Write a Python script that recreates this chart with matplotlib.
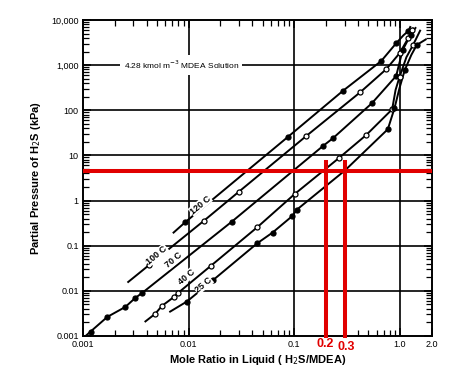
import numpy as np
import matplotlib.pyplot as plt
from matplotlib.ticker import FixedLocator, FixedFormatter, LogLocator, NullFormatter
import matplotlib.transforms as mtransforms

plt.rcParams['font.family'] = ['Liberation Sans', 'DejaVu Sans']

# isotherms: mole ratio (H2S/MDEA) vs partial pressure of H2S (kPa)
t120_x = [0.0072, 0.00927, 0.0875, 0.287, 0.665, 0.92, 1.08, 1.2, 1.25]
t120_y = [0.195, 0.33, 26, 267, 1236, 3050, 4600, 5700, 7000]
t120_mx = [0.00927, 0.0875, 0.287, 0.665, 0.92, 1.2]
t120_my = [0.33, 26, 267, 1236, 3050, 5700]

t100_x = [0.00268, 0.00424, 0.014, 0.0299, 0.130, 0.42, 0.74, 0.99, 1.2, 1.33]
t100_y = [0.0157, 0.0375, 0.359, 1.57, 27, 250, 810, 1830, 4000, 6500]
t100_mx = [0.00424, 0.014, 0.0299, 0.130, 0.42, 0.74, 0.99, 1.2, 1.3]
t100_my = [0.0375, 0.359, 1.57, 27, 250, 810, 1830, 4000, 6000]

t70_x = [0.00106, 0.00118, 0.0017, 0.00252, 0.00313, 0.00364, 0.0256, 0.187, 0.232,
         0.542, 0.92, 1.06, 1.26, 1.4]
t70_y = [0.001, 0.00125, 0.00264, 0.0044, 0.00697, 0.009, 0.34, 16.2, 24,
         143, 575, 2170, 4650, 6650]
t70_mx = [0.00118, 0.0017, 0.00252, 0.00313, 0.00364, 0.0256, 0.187, 0.232,
          0.542, 0.92, 1.06, 1.26]
t70_my = [0.00125, 0.00264, 0.0044, 0.00697, 0.009, 0.34, 16.2, 24,
          143, 575, 2170, 4650]

t40_x = [0.0039, 0.00483, 0.00559, 0.0072, 0.008, 0.0163, 0.0446, 0.101, 0.263,
         0.48, 0.843, 0.908, 0.99, 1.15, 1.33, 1.55]
t40_y = [0.0021, 0.0031, 0.00463, 0.0072, 0.0091, 0.0361, 0.256, 1.4, 8.65,
         28.4, 105, 282, 547, 1500, 2800, 5800]
t40_mx = [0.00483, 0.00559, 0.0072, 0.008, 0.0163, 0.0446, 0.101, 0.263,
          0.48, 0.843, 0.99, 1.33]
t40_my = [0.0031, 0.00463, 0.0072, 0.0091, 0.0361, 0.256, 1.4, 8.65,
          28.4, 105, 547, 2800]

t25_x = [0.00668, 0.0096, 0.0171, 0.0446, 0.0622, 0.096, 0.105, 0.30, 0.767,
         0.887, 0.99, 1.11, 1.28, 1.44, 1.75]
t25_y = [0.00346, 0.00577, 0.0174, 0.113, 0.195, 0.456, 0.62, 4.6, 38,
         111, 312, 780, 1680, 2790, 3700]
t25_mx = [0.0096, 0.0171, 0.0446, 0.0622, 0.096, 0.105, 0.767, 0.887, 1.11, 1.44]
t25_my = [0.00577, 0.0174, 0.113, 0.195, 0.456, 0.62, 38, 111, 780, 2790]

labels = ['120 C', '100 C', '70 C', '40 C', '25 C']
label_x = [0.0129, 0.0050, 0.0072, 0.0096, 0.0138]
label_y = [0.80, 0.0624, 0.0483, 0.0207, 0.0135]

y_ticks = [0.001, 0.01, 0.1, 1, 10, 100, 1000, 10000]
y_ticklabels = ['0.001', '0.01', '0.1', '1', '10', '100', '1,000', '10,000']
x_ticks = [0.001, 0.01, 0.1, 1.0, 2.0]
x_ticklabels = ['0.001', '0.01', '0.1', '1.0', '2.0']

p_read = 4.6          # red reading line, kPa
alpha_read = [0.2, 0.3]
alpha_top = 7.3

fig = plt.figure(figsize=(4.74, 3.70), dpi=100)
ax = fig.add_axes([0.175, 0.092, 0.736, 0.854])
ax.set_xscale('log')
ax.set_yscale('log')
ax.set_xlim(0.001, 2.0)
ax.set_ylim(0.001, 10000)

ax.xaxis.set_major_locator(FixedLocator(x_ticks))
ax.xaxis.set_major_formatter(FixedFormatter(x_ticklabels))
ax.xaxis.set_minor_locator(LogLocator(base=10, subs=np.arange(2, 10), numticks=20))
ax.xaxis.set_minor_formatter(NullFormatter())
ax.yaxis.set_major_locator(FixedLocator(y_ticks))
ax.yaxis.set_major_formatter(FixedFormatter(y_ticklabels))
ax.yaxis.set_minor_locator(LogLocator(base=10, subs=np.arange(2, 10), numticks=20))
ax.yaxis.set_minor_formatter(NullFormatter())
ax.tick_params(which='both', direction='in', top=True, right=True, colors='black',
               labelsize=6.5, pad=3)
ax.tick_params(which='major', length=6, width=1.1)
ax.tick_params(which='minor', length=4, width=0.9)
for s in ax.spines.values():
    s.set_linewidth(1.4)

for t in [0.01, 0.1, 1.0]:
    ax.axvline(t, color='black', lw=1.2, zorder=1)
for t in [0.01, 0.1, 1, 10, 100, 1000]:
    ax.axhline(t, color='black', lw=1.2, zorder=1)

curves = [
    (t120_x, t120_y, t120_mx, t120_my, 'black'),
    (t100_x, t100_y, t100_mx, t100_my, 'white'),
    (t70_x, t70_y, t70_mx, t70_my, 'black'),
    (t40_x, t40_y, t40_mx, t40_my, 'white'),
    (t25_x, t25_y, t25_mx, t25_my, 'black'),
]
for cx, cy, mx, my, fc in curves:
    ax.plot(cx, cy, color='black', lw=1.4, zorder=3)
    ax.plot(mx, my, 'o', ms=3.6, mfc=fc, mec='black', mew=0.9, zorder=4)

for lab, lx, ly in zip(labels, label_x, label_y):
    ax.text(lx, ly, lab, rotation=40, ha='center', va='center', fontsize=6.5,
            fontweight='bold', zorder=5,
            bbox=dict(facecolor='white', edgecolor='none', pad=0.3))

ax.text(0.0085, 1000, '4.28 kmol m$^{-3}$ MDEA Solution', ha='center', va='center',
        fontsize=6, zorder=5, bbox=dict(facecolor='white', edgecolor='none', pad=2.5))

ax.set_ylabel('Partial Pressure of H$_2$S (kPa)', fontsize=8, fontweight='bold', labelpad=6)
ax.set_xlabel('Mole Ratio in Liquid ( H$_2$S/MDEA)', fontsize=8, fontweight='bold', labelpad=3)

red = '#e10000'
ax.axhline(p_read, color=red, lw=2.9, zorder=6)
for a in alpha_read:
    ax.plot([a, a], [0.001, alpha_top], color=red, lw=2.9, zorder=6, clip_on=False)
trans = mtransforms.blended_transform_factory(ax.transData, ax.transAxes)
ax.text(0.195, -0.027, '0.2', transform=trans, color=red, fontsize=9, fontweight='bold',
        ha='center', va='center', zorder=7)
ax.text(0.31, -0.036, '0.3', transform=trans, color=red, fontsize=9, fontweight='bold',
        ha='center', va='center', zorder=7)

fig.savefig('out.png', dpi=100)
